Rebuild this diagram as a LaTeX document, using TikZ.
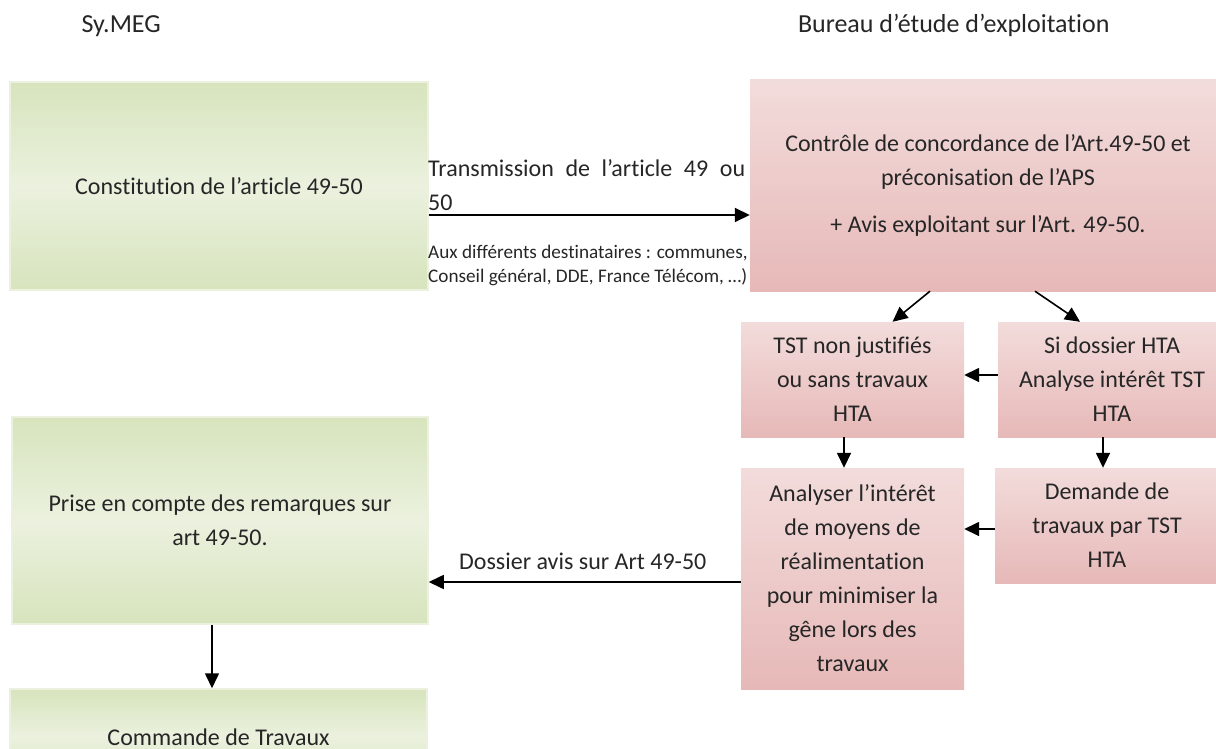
\documentclass[tikz,border=0pt]{standalone}
\usepackage{fontspec}
\setmainfont{Carlito}[Ligatures=NoCommon]
\usetikzlibrary{arrows.meta}

\definecolor{gTop}{HTML}{D7E4BD}
\definecolor{gMid}{HTML}{EBF1DE}
\definecolor{pTop}{HTML}{F2DCDB}
\definecolor{pBot}{HTML}{E6B9B8}
\definecolor{txt}{HTML}{262626}

\tikzset{
  greenbox/.style={draw=gMid, line width=1.5pt, top color=gTop,
    bottom color=gTop, middle color=gMid, text=txt, align=center,
    inner sep=0pt},
  pinkbox/.style={top color=pTop, bottom color=pBot, text=txt,
    align=center, inner sep=0pt},
  arr/.style={-{Triangle[length=15pt,width=14pt]}, line width=1.6pt},
}

\begin{document}
\begin{tikzpicture}[x=1pt, y=-1pt, font=\fontsize{24}{34}\selectfont]
    \useasboundingbox (0,0) rectangle (1216,749);
    \clip (0,0) rectangle (1216,749);

    \coordinate (c1) at (219, 186);
    \coordinate (c2) at (988, 185.5);
    \coordinate (c3) at (852.5, 379.5);
    \coordinate (c4) at (1112, 379.5);
    \coordinate (c5) at (852.5, 578.5);
    \coordinate (c6) at (1107, 525.5);
    \coordinate (c7) at (220, 520.5);
    \coordinate (c8) at (218.5, 737);

    \node [anchor=base west,text=txt,font=\fontsize{26}{30}\selectfont]
    (symeg) at (78, 33) {Sy.MEG};

    \node [anchor=base east,text=txt,font=\fontsize{26}{30}\selectfont]
    (bureau) at (1113, 33) {Bureau d’étude d’exploitation};

    \node [greenbox,minimum width=418pt,minimum height=208pt]
    (constit) at (c1) {Constitution de l’article 49-50};

    \node [pinkbox,minimum width=476pt,minimum height=211pt]
    (control) at (c2) {Contrôle de concordance de l’Art.49-50 et\\
    préconisation de l’APS\\[13pt] + Avis exploitant sur l’Art. 49-50.};

    \node [pinkbox,minimum width=223pt,minimum height=115pt]
    (tstno) at (c3) {TST non justifiés\\ ou sans travaux\\ HTA};

    \node [pinkbox,minimum width=228pt,minimum height=115pt]
    (sidoss) at (c4) {Si dossier HTA\\ Analyse intérêt TST\\ HTA};

    \node [pinkbox,minimum width=223pt,minimum height=221pt]
    (analyse) at (c5) {Analyser l’intérêt\\ de moyens de\\ réalimentation\\
    pour minimiser la\\ gêne lors des\\ travaux};

    \node [pinkbox,minimum width=224pt,minimum height=115pt]
    (demande) at (c6) {Demande de\\ travaux par TST\\ HTA};

    \node [greenbox,minimum width=416pt,minimum height=207pt]
    (prise) at (c7) {Prise en compte des remarques sur\\ art 49-50.};

    \node [greenbox,minimum width=417pt,minimum height=96pt]
    (commande) at (c8) {Commande de Travaux};

    \node [anchor=base west,text=txt,text width=317pt,align=left,
    inner sep=0pt] (transm) at (428, 176)
    {Transmission\hfill de\hfill l’article\hfill 49\hfill ou\\ 50};

    \node [anchor=base west,text=txt,align=left,inner sep=0pt,
    font=\fontsize{19.2}{24}\selectfont] (dest) at (428, 282)
    {Aux différents destinataires : communes,\\
    Conseil général, DDE, France Télécom, …)};

    \node [anchor=base west,text=txt,inner sep=0pt]
    (dossier) at (459, 569) {Dossier avis sur Art 49-50};

    \draw [arr] ([yshift=-29pt]constit.east) -- ([yshift=-29pt]constit.east -| control.west);
    \draw [arr] ([xshift=-58pt]control.south) -- ([xshift=40pt]tstno.north);
    \draw [arr] ([xshift=47pt]control.south) -- ([xshift=-32pt]sidoss.north);
    \draw [arr] ([yshift=4.5pt]sidoss.west) -- ([yshift=4.5pt]sidoss.west -| tstno.east);
    \draw [arr] ([xshift=-8.5pt]tstno.south) -- ([xshift=-8.5pt]tstno.south |- analyse.north);
    \draw [arr] ([xshift=-9pt]sidoss.south) -- ([xshift=-9pt]sidoss.south |- demande.north);
    \draw [arr] ([yshift=-3.5pt]demande.west) -- ([yshift=-3.5pt]demande.west -| analyse.east);
    \draw [arr] ([yshift=-3.5pt]analyse.west) -- ([yshift=-3.5pt]analyse.west -| prise.east);
    \draw [arr] ([xshift=-8pt]prise.south) -- ([xshift=-8pt]prise.south |- commande.north);
  \end{tikzpicture}
\end{document}
